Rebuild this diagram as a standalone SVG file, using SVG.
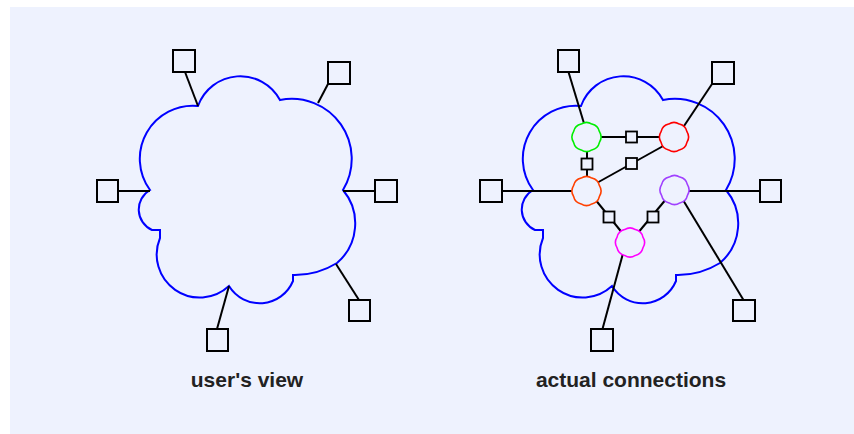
<svg xmlns="http://www.w3.org/2000/svg" xmlns:xlink="http://www.w3.org/1999/xlink" width="854" height="434" viewBox="0 0 854 434">
<style>
.bg{fill:#EEF2FE}
.cloud{fill:none;stroke:#0000FF;stroke-width:2}
.box{fill:#EEF2FE;stroke:#000;stroke-width:2}
.sbox{fill:#EEF2FE;stroke:#000;stroke-width:1.8}
.ln{stroke:#000;stroke-width:2;fill:none}
.node{fill:#EEF2FE;stroke-width:1.6}
.lbl{font-family:"Liberation Sans",Arial,sans-serif;font-weight:bold;font-size:21px;fill:#222;text-anchor:middle}
</style>
<defs>
<path id="cloud" d="M198,106 A45,45 0 0 1 280,100 A60,60 0 0 1 343,190 A52,52 0 0 1 337,263 A80,80 0 0 1 293,275 L293,281 A36,36 0 0 1 229,286 A43,43 0 0 1 160,238 L160,230 L152,230 A22.5,22.5 0 0 1 150,190 A53,53 0 0 1 198,106 Z"/>
<path id="nc" d="M12.93,-5.36 A10,10 0 0 1 12.93,5.36 A10,10 0 0 1 5.36,12.93 A10,10 0 0 1 -5.36,12.93 A10,10 0 0 1 -12.93,5.36 A10,10 0 0 1 -12.93,-5.36 A10,10 0 0 1 -5.36,-12.93 A10,10 0 0 1 5.36,-12.93 A10,10 0 0 1 12.93,-5.36 Z"/>
</defs>
<rect x="0" y="0" width="854" height="434" fill="#FFFFFF"/>
<rect class="bg" x="10" y="7" width="844" height="427"/>

<!-- left: user's view -->
<g id="left-cloud"><use xlink:href="#cloud" class="cloud"/></g>
<g id="left-connectors">
<line class="ln" x1="185" y1="72" x2="198" y2="106"/>
<line class="ln" x1="328" y1="84" x2="318" y2="103"/>
<line class="ln" x1="118" y1="191" x2="150" y2="191"/>
<line class="ln" x1="343" y1="191" x2="375" y2="191"/>
<line class="ln" x1="359" y1="300" x2="336" y2="264"/>
<line class="ln" x1="217" y1="329" x2="229" y2="286"/>
</g>
<g id="l-box1"><rect class="box" x="173" y="50" width="22" height="22"/></g>
<g id="l-box2"><rect class="box" x="328" y="62" width="22" height="22"/></g>
<g id="l-box3"><rect class="box" x="97" y="180" width="21" height="22"/></g>
<g id="l-box4"><rect class="box" x="375" y="180" width="22" height="22"/></g>
<g id="l-box5"><rect class="box" x="349" y="300" width="21" height="21"/></g>
<g id="l-box6"><rect class="box" x="207" y="329" width="21" height="22"/></g>
<g id="l-label"><text class="lbl" x="247" y="387">user's view</text></g>

<!-- right: actual connections -->
<g id="right-cloud"><use xlink:href="#cloud" class="cloud" transform="translate(383,0)"/></g>
<g id="right-connectors">
<line class="ln" x1="568.5" y1="72" x2="586" y2="130"/>
<line class="ln" x1="712" y1="84" x2="680" y2="132"/>
<line class="ln" x1="502" y1="191" x2="586" y2="191"/>
<line class="ln" x1="674" y1="191" x2="760" y2="191"/>
<line class="ln" x1="680" y1="195" x2="743.5" y2="300"/>
<line class="ln" x1="602.5" y1="329" x2="625" y2="246"/>
<line class="ln" x1="586" y1="137" x2="674" y2="137"/>
<line class="ln" x1="587" y1="137" x2="587" y2="191"/>
<line class="ln" x1="586" y1="189" x2="674" y2="140"/>
<line class="ln" x1="590" y1="193" x2="628" y2="240"/>
<line class="ln" x1="672" y1="192" x2="632" y2="240"/>
</g>
<g id="n-green"><use xlink:href="#nc" class="node" stroke="#00EE00" transform="translate(586.5,137)"/></g>
<g id="n-red"><use xlink:href="#nc" class="node" stroke="#FF0000" transform="translate(674,137)"/></g>
<g id="n-orange"><use xlink:href="#nc" class="node" stroke="#FF4000" transform="translate(586.5,191)"/></g>
<g id="n-purple"><use xlink:href="#nc" class="node" stroke="#A040FF" transform="translate(674.5,190)"/></g>
<g id="n-magenta"><use xlink:href="#nc" class="node" stroke="#FF00FF" transform="translate(630,242.5)"/></g>
<g id="s-box1"><rect class="sbox" x="626" y="131.5" width="11" height="11"/></g>
<g id="s-box2"><rect class="sbox" x="581.5" y="158.5" width="11" height="11"/></g>
<g id="s-box3"><rect class="sbox" x="626" y="158" width="11" height="11"/></g>
<g id="s-box4"><rect class="sbox" x="603.5" y="211.5" width="11" height="11"/></g>
<g id="s-box5"><rect class="sbox" x="647.5" y="211.5" width="11" height="11"/></g>
<g id="r-box1"><rect class="box" x="558" y="50" width="21" height="22"/></g>
<g id="r-box2"><rect class="box" x="712" y="62" width="22" height="22"/></g>
<g id="r-box3"><rect class="box" x="480" y="180" width="22" height="22"/></g>
<g id="r-box4"><rect class="box" x="760" y="180" width="21" height="22"/></g>
<g id="r-box5"><rect class="box" x="733" y="300" width="22" height="21"/></g>
<g id="r-box6"><rect class="box" x="591" y="329" width="22" height="22"/></g>
<g id="r-label"><text class="lbl" x="631" y="387">actual connections</text></g>
</svg>
